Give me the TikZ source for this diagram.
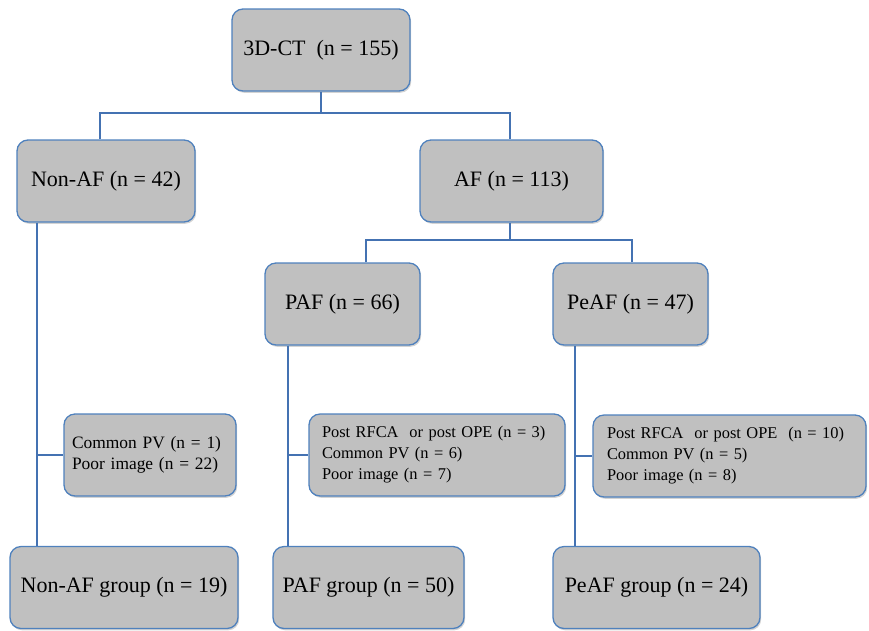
\documentclass[tikz,border=0pt]{standalone}
\usepackage{fontspec}
\setmainfont{Liberation Serif}
\usetikzlibrary{shadows}
\definecolor{boxfill}{RGB}{192,192,192}
\definecolor{boxline}{RGB}{79,129,189}
\definecolor{conn}{RGB}{68,114,178}
\begin{document}
\begin{tikzpicture}[x=1pt,y=-1pt,
  bigbox/.style={draw=boxline, line width=1.3pt, fill=boxfill, rounded corners=11pt,
    minimum height=82pt, inner sep=0pt, font=\fontsize{22}{26}\selectfont,
    drop shadow={shadow xshift=1.2pt, shadow yshift=-1.8pt, opacity=0.35}},
  exbox/.style={draw=boxline, line width=1.3pt, fill=boxfill, rounded corners=11pt,
    minimum height=82pt, inner ysep=0pt, align=left, font=\fontsize{16.4}{21}\selectfont,
    drop shadow={shadow xshift=1.2pt, shadow yshift=-1.8pt, opacity=0.35}},
  conline/.style={draw=conn, line width=2.8pt}]
\useasboundingbox (0,0) rectangle (869,630);

% level boxes
\node[bigbox, minimum width=178pt] (ct) at (321,50) {3D-CT\ \ (n = 155)};
\node[bigbox, minimum width=178pt] (nonaf) at (106,181) {Non-AF (n = 42)};
\node[bigbox, minimum width=183pt] (af) at (511.5,181) {AF (n = 113)};
\node[bigbox, minimum width=155pt] (paf) at (342.5,304) {PAF (n = 66)};
\node[bigbox, minimum width=155pt] (peaf) at (630.5,304) {PeAF (n = 47)};

% exclusion boxes
\node[exbox, inner xsep=8pt, text width=156pt, font=\fontsize{17.4}{21}\selectfont] (ex1) at (150,455)
  {\mbox{Common PV (n = 1)}\\\mbox{Poor image (n = 22)}};
\node[exbox, inner xsep=13pt, text width=230pt] (ex2) at (437,455)
  {\mbox{Post RFCA\ \ or post OPE (n = 3)}\\\mbox{Common PV (n = 6)}\\\mbox{Poor image (n = 7)}};
\node[exbox, inner xsep=14pt, text width=245pt] (ex3) at (729.5,456)
  {\mbox{Post RFCA\ \ or post OPE\ \ (n = 10)}\\\mbox{Common PV (n = 5)}\\\mbox{Poor image (n = 8)}};

% group boxes
\node[bigbox, minimum width=228pt] (g1) at (124,587.5) {Non-AF group (n = 19)};
\node[bigbox, minimum width=191pt] (g2) at (368.5,587.5) {PAF group (n = 50)};
\node[bigbox, minimum width=207pt] (g3) at (656.5,587.5) {PeAF group (n = 24)};

% junction coordinates
\coordinate (j1) at (321,113);
\coordinate (j2) at (511,240);
\coordinate (xnon) at (100,0);
\coordinate (xaf) at (510,0);
\coordinate (xpaf) at (366,0);
\coordinate (xpeaf) at (632,0);
\coordinate (v1) at (37,0);
\coordinate (v2) at (288,0);
\coordinate (v3) at (575,0);

% connectors
\draw[conline] (ct.south) -- (j1);
\draw[conline] (nonaf.north -| xnon) |- (j1) -| (af.north -| xaf);
\draw[conline] (af.south -| xaf) |- (j2);
\draw[conline] (paf.north -| xpaf) |- (j2) -| (peaf.north -| xpeaf);

\draw[conline] (nonaf.south -| v1) -- (g1.north -| v1);
\draw[conline] (ex1.west -| v1) -- (ex1.west);
\draw[conline] (paf.south -| v2) -- (g2.north -| v2);
\draw[conline] (ex2.west -| v2) -- (ex2.west);
\draw[conline] (peaf.south -| v3) -- (g3.north -| v3);
\draw[conline] (ex3.west -| v3) -- (ex3.west);
\end{tikzpicture}
\end{document}
